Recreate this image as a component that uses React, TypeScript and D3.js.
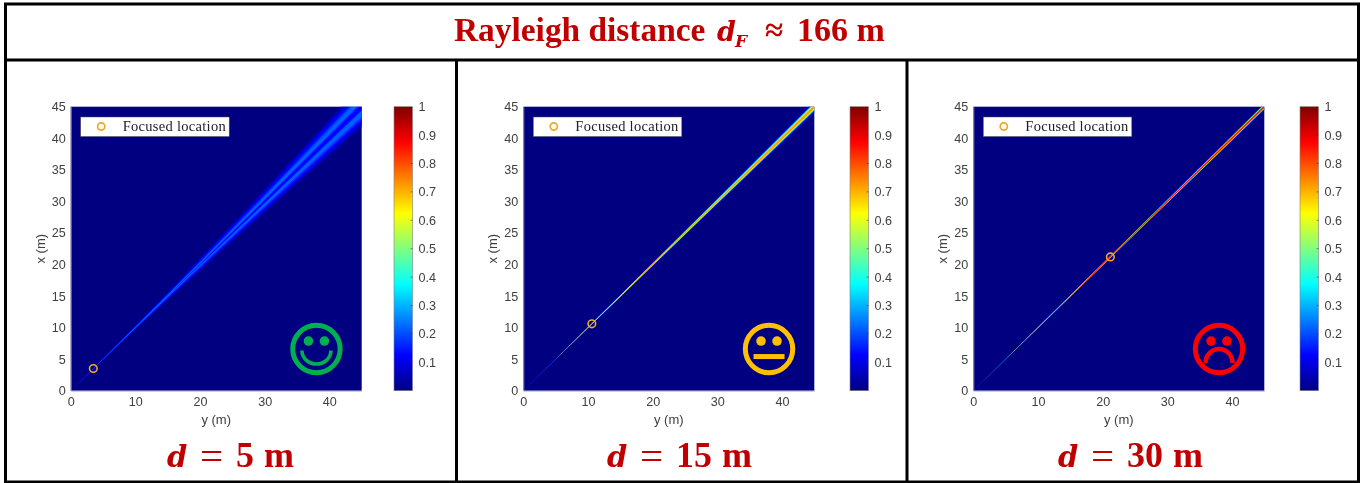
import { useEffect, useRef } from "react";
import * as d3 from "d3";

// tick labels
const axisTicks = [0, 5, 10, 15, 20, 25, 30, 35, 40, 45];
const xAxisTicks = [0, 10, 20, 30, 40];
const colorTicks = [0.1, 0.2, 0.3, 0.4, 0.5, 0.6, 0.7, 0.8, 0.9, 1];

// focused points (m)
const focusPoints = [3.5, 10.6, 21.2];
const captions = ["5", "15", "30"];
const faces = ["smile", "neutral", "frown"];
const faceColors = ["#00b050", "#ffc000", "#ff0000"];

// beam stations along the diagonal (m)
const stations = [0, 5, 10, 15, 20, 25, 30, 35, 40, 45, 50];

// each band is [level, half width across the diagonal at every station]
const beamNear: [number, number[]][] = [
  [0.05, [0, 0.14, 0.32, 0.62, 1.0, 1.4, 1.85, 2.35, 2.85, 3.35, 3.8]],
  [0.09, [0, 0.1, 0.24, 0.48, 0.82, 1.15, 1.55, 2.0, 2.45, 2.9, 3.3]],
  [0.13, [0, 0.07, 0.18, 0.36, 0.64, 0.92, 1.25, 1.65, 2.05, 2.45, 2.85]],
  [0.18, [0, 0.04, 0.12, 0.25, 0.46, 0.7, 0.98, 1.3, 1.65, 2.0, 2.35]],
  [0.22, [0, 0.02, 0.08, 0.16, 0.3, 0.5, 0.74, 1.02, 1.3, 1.6, 1.9]],
  [0.15, [0, 0, 0, 0.02, 0.08, 0.18, 0.3, 0.42, 0.54, 0.66, 0.78]],
  [0.12, [0, 0, 0, 0, 0.03, 0.08, 0.14, 0.2, 0.26, 0.32, 0.38]],
];
const beamMid: [number, number[]][] = [
  [0.06, [0, 0.06, 0.12, 0.2, 0.3, 0.42, 0.55, 0.7, 0.85, 1.0, 1.15]],
  [0.14, [0, 0.04, 0.09, 0.15, 0.23, 0.32, 0.43, 0.55, 0.68, 0.8, 0.92]],
  [0.3, [0, 0.01, 0.06, 0.12, 0.19, 0.26, 0.34, 0.44, 0.54, 0.64, 0.74]],
  [0.45, [0, 0, 0.04, 0.09, 0.15, 0.2, 0.27, 0.35, 0.43, 0.51, 0.58]],
  [0.6, [0, 0, 0.03, 0.07, 0.11, 0.15, 0.2, 0.26, 0.32, 0.38, 0.44]],
  [0.72, [0, 0, 0.02, 0.05, 0.08, 0.11, 0.14, 0.18, 0.22, 0.26, 0.3]],
];
const beamFar: [number, number[]][] = [
  [0.06, [0, 0.06, 0.12, 0.17, 0.22, 0.28, 0.34, 0.4, 0.47, 0.54, 0.62]],
  [0.2, [0, 0.04, 0.08, 0.12, 0.16, 0.21, 0.26, 0.32, 0.38, 0.44, 0.5]],
  [0.4, [0, 0.01, 0.05, 0.09, 0.13, 0.17, 0.21, 0.26, 0.3, 0.35, 0.4]],
  [0.6, [0, 0, 0.03, 0.07, 0.11, 0.14, 0.17, 0.2, 0.24, 0.27, 0.3]],
  [0.75, [0, 0, 0.02, 0.05, 0.09, 0.11, 0.13, 0.16, 0.18, 0.21, 0.23]],
  [0.86, [0, 0, 0.01, 0.03, 0.06, 0.08, 0.1, 0.12, 0.13, 0.15, 0.16]],
];
const beams = [beamNear, beamMid, beamFar];

// layout of the three panels
const plotLefts = [70.7, 523.3, 973.3];
const barLefts = [394, 850, 1300];
const captionLefts = [168, 608, 1059];

const jet = d3
  .scaleLinear<string>()
  .domain([0, 0.125, 0.375, 0.625, 0.875, 1])
  .range(["#000080", "#0000ff", "#00ffff", "#ffff00", "#ff0000", "#800000"]);

const textGrey = "#404040";
const red = "#c00000";

export default function App() {
  const svgRef = useRef<SVGSVGElement>(null);

  useEffect(() => {
    const width = 1371;
    const height = 483;
    const svgRoot = d3.select(svgRef.current);
    svgRoot.selectAll("*").remove();
    const defs = svgRoot.append("defs");

    const soft = defs.append("filter").attr("id", "soft").attr("color-interpolation-filters", "sRGB");
    soft.append("feGaussianBlur").attr("stdDeviation", 0.45);

    // the source picture is a slightly soft raster
    const pageSoft = defs.append("filter").attr("id", "pagesoft").attr("color-interpolation-filters", "sRGB");
    pageSoft.append("feGaussianBlur").attr("stdDeviation", 0.35);
    const svg = svgRoot.append("g").attr("filter", "url(#pagesoft)");
    svg.append("rect").attr("width", width).attr("height", height).attr("fill", "white");

    const gradient = defs
      .append("linearGradient")
      .attr("id", "jetbar")
      .attr("x1", 0)
      .attr("x2", 0)
      .attr("y1", 1)
      .attr("y2", 0);
    d3.range(0, 1.001, 0.025).forEach((t) => {
      gradient.append("stop").attr("offset", t).attr("stop-color", jet(t));
    });

    // frame
    const frame = svg.append("g").attr("stroke", "black").attr("fill", "none");
    frame
      .append("rect")
      .attr("x", 5.5)
      .attr("y", 4)
      .attr("width", 1353)
      .attr("height", 478)
      .attr("stroke-width", 3);
    frame.append("line").attr("x1", 5).attr("x2", 1359).attr("y1", 60).attr("y2", 60).attr("stroke-width", 3.2);
    [456.5, 907].forEach((x) => {
      frame.append("line").attr("x1", x).attr("x2", x).attr("y1", 60).attr("y2", 482).attr("stroke-width", 3);
    });

    // title
    const titleFont = "'Liberation Serif', serif";
    const mathFont = "'DejaVu Serif', serif";
    const title = svg
      .append("g")
      .attr("fill", red)
      .attr("font-family", titleFont)
      .attr("font-weight", "bold");
    title.append("text").attr("x", 454).attr("y", 41).attr("font-size", 33.4).text("Rayleigh distance");
    title
      .append("text")
      .attr("x", 717)
      .attr("y", 41)
      .attr("font-size", 27)
      .attr("font-family", mathFont)
      .attr("font-style", "italic")
      .text("d");
    title
      .append("text")
      .attr("x", 735)
      .attr("y", 47)
      .attr("font-size", 17)
      .attr("font-family", mathFont)
      .attr("font-style", "italic")
      .text("F");
    title.append("text").attr("x", 765).attr("y", 41).attr("font-size", 33).text("≈");
    title.append("text").attr("x", 797).attr("y", 41).attr("font-size", 34).text("166 m");

    plotLefts.forEach((left, i) => {
      const top = 106.7;
      const bottom = 390.7;
      const right = left + 291;
      const yScale = d3.scaleLinear().domain([0, 45]).range([left, right]);
      const xScale = d3.scaleLinear().domain([0, 45]).range([bottom, top]);
      const panel = svg.append("g");

      const clipId = `plot-${i}`;
      defs
        .append("clipPath")
        .attr("id", clipId)
        .append("rect")
        .attr("x", left)
        .attr("y", top)
        .attr("width", right - left)
        .attr("height", bottom - top);

      // heat map background
      panel
        .append("rect")
        .attr("x", left)
        .attr("y", top)
        .attr("width", right - left)
        .attr("height", bottom - top)
        .attr("fill", jet(0));

      // beam as nested bands around the diagonal
      const beamLine = d3
        .line<[number, number]>()
        .x((d) => yScale(d[0]))
        .y((d) => xScale(d[1]));
      const beamGroup = panel.append("g").attr("clip-path", `url(#${clipId})`).append("g").attr("filter", "url(#soft)");
      beams[i].forEach(([level, widths]) => {
        const upper = stations.map((a, k): [number, number] => [a - widths[k] / 2, a + widths[k] / 2]);
        const lower = stations.map((a, k): [number, number] => [a + widths[k] / 2, a - widths[k] / 2]);
        beamGroup
          .append("path")
          .attr("d", beamLine(upper.concat(lower.reverse())) + "Z")
          .attr("fill", jet(level));
      });

      // happy / neutral / sad face
      const fx = yScale(38);
      const fy = xScale(6.6);
      const faceColor = faceColors[i];
      const face = panel.append("g").attr("transform", `translate(${fx},${fy})`);
      face.append("circle").attr("r", 23.7).attr("fill", "none").attr("stroke", faceColor).attr("stroke-width", 5);
      [-8, 8].forEach((ex) => {
        face.append("circle").attr("cx", ex).attr("cy", -8).attr("r", 4.8).attr("fill", faceColor);
      });
      if (faces[i] === "smile") {
        face
          .append("path")
          .attr("d", "M-14.5,1.5 A14.5,13.5 0 0 0 14.5,1.5")
          .attr("fill", "none")
          .attr("stroke", faceColor)
          .attr("stroke-width", 3.6);
      } else if (faces[i] === "neutral") {
        face.append("rect").attr("x", -15.5).attr("y", 5).attr("width", 31).attr("height", 5).attr("fill", faceColor);
      } else {
        face
          .append("path")
          .attr("d", "M-13.5,14 A13.5,14 0 0 1 13.5,14")
          .attr("fill", "none")
          .attr("stroke", faceColor)
          .attr("stroke-width", 4.4);
      }

      // focused location marker
      panel
        .append("circle")
        .attr("cx", yScale(focusPoints[i]))
        .attr("cy", xScale(focusPoints[i]))
        .attr("r", 3.8)
        .attr("fill", "none")
        .attr("stroke", "#eda920")
        .attr("stroke-width", 1.6);

      // axes
      const xAxis = d3.axisBottom(yScale).tickValues(xAxisTicks).tickSize(0).tickPadding(6);
      const yAxis = d3.axisLeft(xScale).tickValues(axisTicks).tickSize(0).tickPadding(5);
      const styleAxis = (g: d3.Selection<SVGGElement, unknown, null, undefined>) => {
        g.attr("font-family", "'Liberation Sans', Arial, sans-serif").attr("font-size", 12.6);
        g.selectAll("text").attr("fill", textGrey);
        g.select(".domain").attr("stroke", "#a9a9b8").attr("stroke-width", 0.8);
      };
      panel.append("g").attr("transform", `translate(0,${bottom})`).call(xAxis).call(styleAxis);
      panel.append("g").attr("transform", `translate(${left},0)`).call(yAxis).call(styleAxis);

      panel
        .append("text")
        .attr("x", (left + right) / 2)
        .attr("y", 424)
        .attr("text-anchor", "middle")
        .attr("font-family", "'Liberation Sans', Arial, sans-serif")
        .attr("font-size", 13)
        .attr("fill", textGrey)
        .text("y (m)");
      panel
        .append("text")
        .attr("transform", `translate(${left - 26},${(top + bottom) / 2}) rotate(-90)`)
        .attr("text-anchor", "middle")
        .attr("font-family", "'Liberation Sans', Arial, sans-serif")
        .attr("font-size", 13)
        .attr("fill", textGrey)
        .text("x (m)");

      // legend
      panel
        .append("rect")
        .attr("x", left + 10)
        .attr("y", 117)
        .attr("width", 148.5)
        .attr("height", 19.5)
        .attr("fill", "white")
        .attr("stroke", "#555")
        .attr("stroke-width", 0.5);
      panel
        .append("circle")
        .attr("cx", left + 30.5)
        .attr("cy", 126.5)
        .attr("r", 3.6)
        .attr("fill", "none")
        .attr("stroke", "#eda920")
        .attr("stroke-width", 1.7);
      panel
        .append("text")
        .attr("x", left + 52)
        .attr("y", 130.5)
        .attr("font-family", "'Liberation Serif', serif")
        .attr("font-size", 14.5)
        .attr("textLength", 103)
        .attr("fill", "#222")
        .text("Focused location");

      // colorbar
      const barLeft = barLefts[i];
      const barScale = d3.scaleLinear().domain([0, 1]).range([bottom, top]);
      panel
        .append("rect")
        .attr("x", barLeft)
        .attr("y", top)
        .attr("width", 18.5)
        .attr("height", bottom - top)
        .attr("fill", "url(#jetbar)")
        .attr("stroke", "#808080")
        .attr("stroke-width", 0.6);
      const barAxis = d3
        .axisRight(barScale)
        .tickValues(colorTicks)
        .tickFormat((d) => `${d}`)
        .tickSize(0)
        .tickPadding(6);
      panel
        .append("g")
        .attr("transform", `translate(${barLeft + 18.5},0)`)
        .call(barAxis)
        .call(styleAxis)
        .call((g) => g.select(".domain").remove());
      // small inner ticks
      panel
        .append("g")
        .selectAll("line")
        .data(colorTicks.slice(0, -1))
        .join("line")
        .attr("x1", barLeft + 16.5)
        .attr("x2", barLeft + 18.5)
        .attr("y1", (d) => barScale(d))
        .attr("y2", (d) => barScale(d))
        .attr("stroke", "#404040")
        .attr("stroke-width", 0.6);

      // caption, placed piece by piece because the math spacing is wide
      const capLeft = captionLefts[i];
      const caption = svg
        .append("g")
        .attr("fill", red)
        .attr("font-family", titleFont)
        .attr("font-weight", "bold")
        .attr("font-size", 36);
      caption
        .append("text")
        .attr("x", capLeft - 1)
        .attr("y", 467)
        .attr("font-family", mathFont)
        .attr("font-style", "italic")
        .attr("font-size", 29)
        .text("d");
      caption
        .append("text")
        .attr("x", capLeft + 32)
        .attr("y", 470)
        .attr("font-weight", "normal")
        .attr("font-size", 41)
        .text("=");
      caption.append("text").attr("x", capLeft + 68).attr("y", 467).text(captions[i]);
      caption
        .append("text")
        .attr("x", capLeft + 68 + captions[i].length * 18 + 10)
        .attr("y", 467)
        .text("m");
    });

    svgRoot.attr("width", width).attr("height", height);
  }, []);

  return <svg ref={svgRef} style={{ position: "absolute", left: 0, top: 0, background: "white" }} />;
}
